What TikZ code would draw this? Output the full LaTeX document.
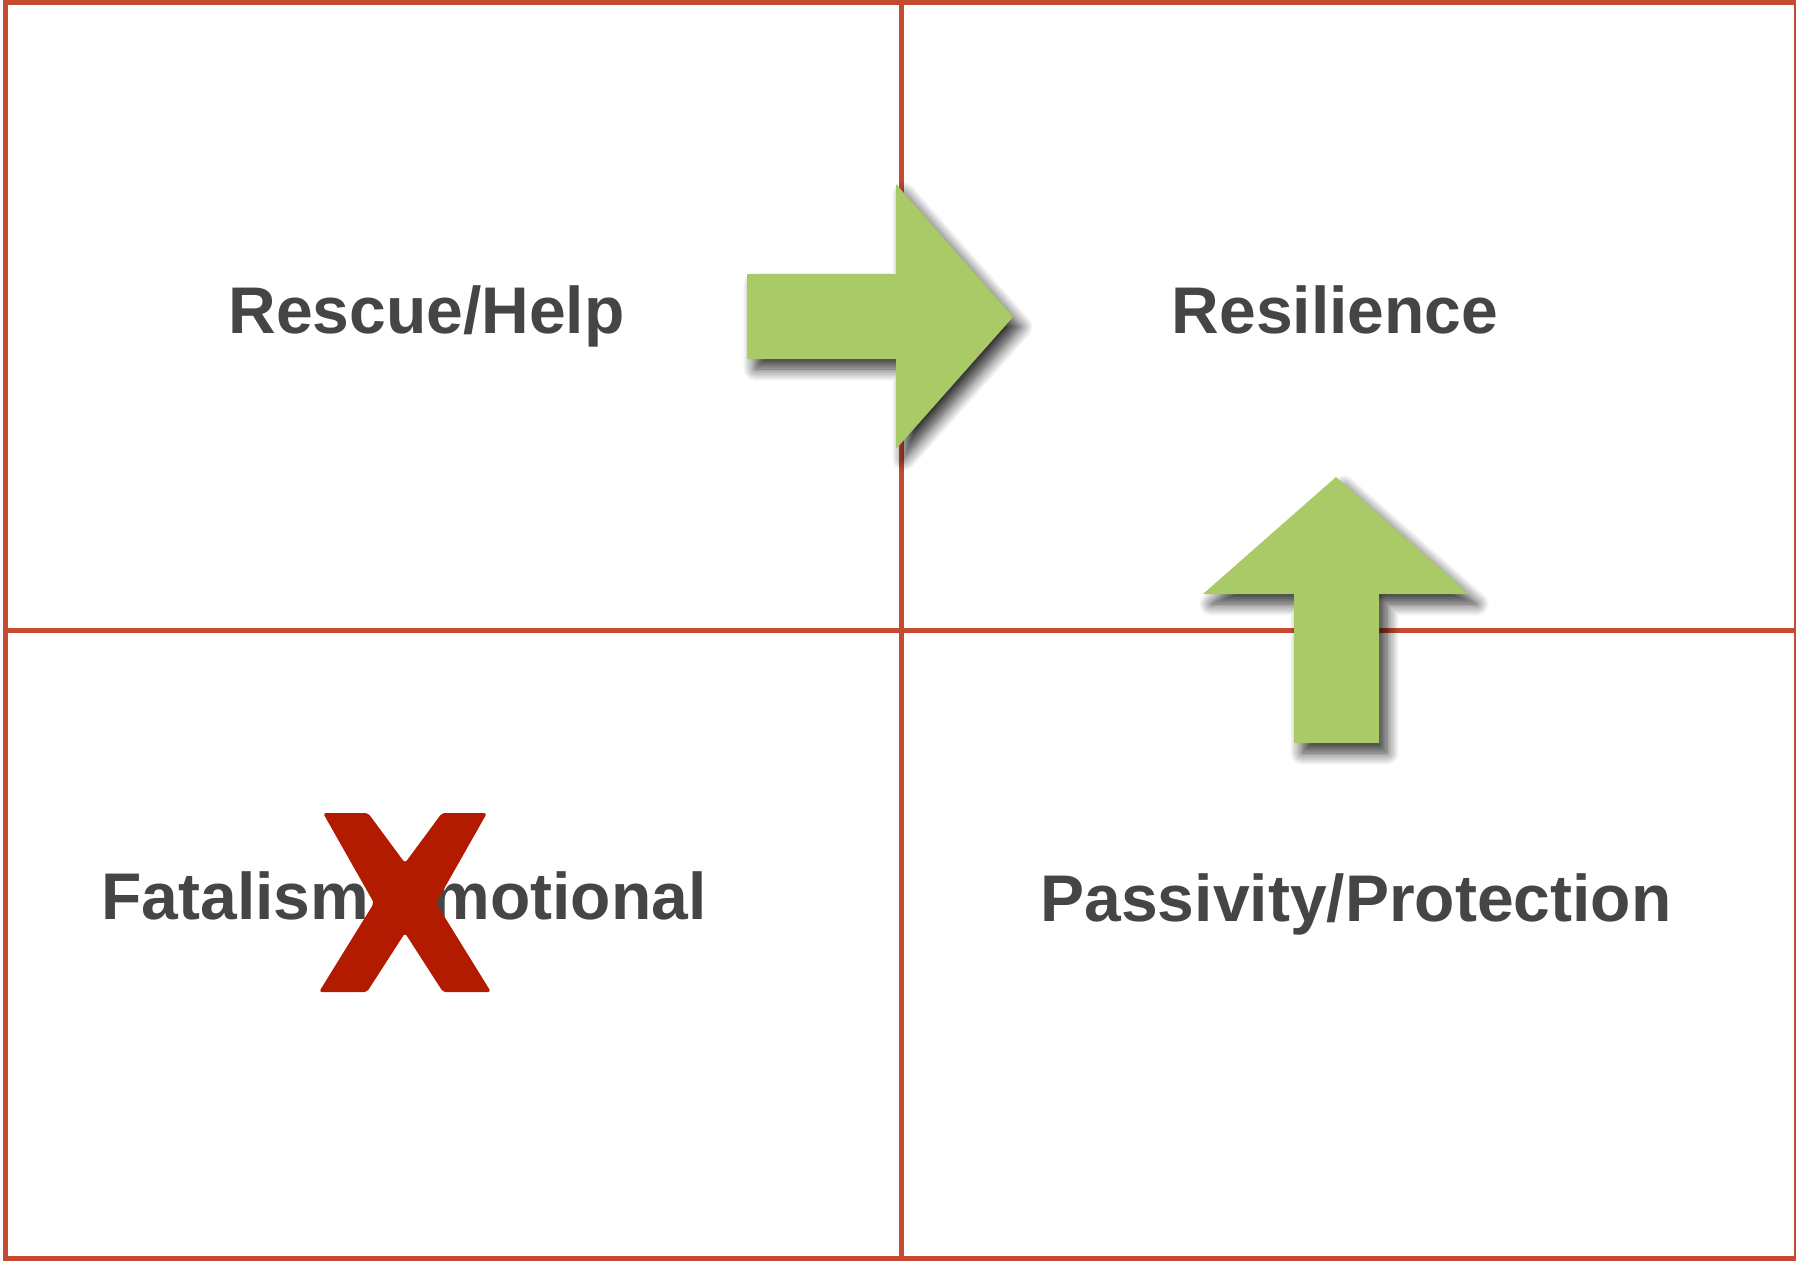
\documentclass[tikz,border=0pt]{standalone}
\usepackage{fontspec}
\setmainfont{Liberation Sans}
\usetikzlibrary{shadows.blur}
\definecolor{gridred}{RGB}{196,74,50}
\definecolor{arrowgreen}{RGB}{170,201,103}
\definecolor{crossred}{RGB}{179,27,0}
\definecolor{labelgray}{RGB}{69,69,69}

\begin{document}
\begin{tikzpicture}[x=0.5pt,y=-0.5pt,
		grid/.style={draw=gridred,line width=2.5pt},
		cell/.style={text=labelgray,font=\fontsize{33}{40}\selectfont\bfseries,anchor=base,inner sep=0pt},
		bigarrow/.style={fill=arrowgreen,blur shadow={shadow xshift=4pt,shadow yshift=-5pt,shadow blur radius=6pt,shadow blur steps=12,shadow opacity=80}}]
				\useasboundingbox (0,0) rectangle (1796,1260);
				% frame and the two dividing lines
				\coordinate (TL) at (5.5,2.5);
				\coordinate (BR) at (1796.5,1258);
				\coordinate (MT) at (901.5,2.5);
				\coordinate (MB) at (901.5,1258);
				\coordinate (ML) at (5.5,630);
				\coordinate (MR) at (1796.5,630);
				\draw[grid] (TL) rectangle (BR);
				\draw[grid] (MT)--(MB);
				\draw[grid] (ML)--(MR);
				% quadrant labels
				\node[cell] (rescue) at (426.5,333) {Rescue/Help};
				\node[cell] (resil) at (1335,333) {Resilience};
				\node[cell] (fatal) at (404,919) {Fatalism/Emotional};
				\node[cell] (passiv) at (1356,921) {Passivity/Protection};
				% arrows
				\fill[bigarrow] (747,274)--(896,274)--(896,184)--(1013,317)--(896,449)--(896,359)--(747,359)--cycle;
				\fill[bigarrow] (1294,743)--(1294,594)--(1203,594)--(1336,477)--(1469,594)--(1379,594)--(1379,743)--cycle;
				% cross over the lower left label
				\fill[crossred,rounded corners=1.5pt] (323,813)--(368,813)--(405,863)--(442,813)--(487,813)--(436,903)
					--(491,992)--(443,992)--(405,933)--(367,992)--(319,992)--(374,903)--cycle;
			\end{tikzpicture}
\end{document}
